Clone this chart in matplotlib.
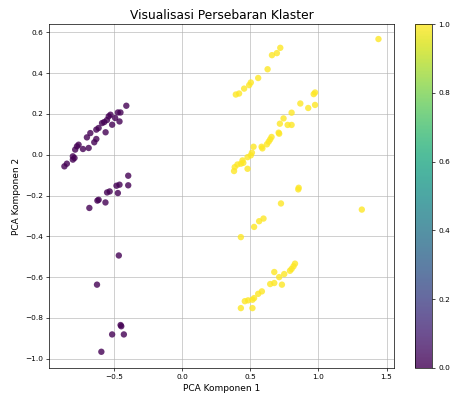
import numpy as np
import matplotlib.pyplot as plt

# cluster 0 (purple)
pc1_k0 = [-0.408, -0.470, -0.451, -0.524, -0.537, -0.458, -0.512, -0.586, -0.570, -0.611,
          -0.628, -0.672, -0.697, -0.628, -0.643, -0.758, -0.770, -0.726, -0.684, -0.783,
          -0.800, -0.788, -0.800, -0.844, -0.862, -0.550, -0.490, -0.560,
          -0.394, -0.394, -0.458, -0.480, -0.470, -0.530, -0.549, -0.561, -0.611, -0.620,
          -0.679, -0.463, -0.623, -0.445, -0.450, -0.512, -0.426, -0.591]
pc2_k0 = [0.240, 0.207, 0.207, 0.196, 0.188, 0.163, 0.147, 0.155, 0.160, 0.131,
          0.123, 0.106, 0.085, 0.077, 0.061, 0.049, 0.041, 0.028, 0.033, 0.025,
          -0.008, -0.016, -0.024, -0.044, -0.057, 0.170, 0.180, 0.110,
          -0.103, -0.150, -0.147, -0.152, -0.188, -0.180, -0.185, -0.234, -0.221, -0.225,
          -0.261, -0.494, -0.637, -0.841, -0.835, -0.881, -0.881, -0.966]

# cluster 1 (yellow)
pc1_k1 = [1.441, 0.721, 0.696, 0.660, 0.628, 0.559, 0.505, 0.493, 0.456, 0.419, 0.395,
          0.976, 0.966, 0.868, 0.926, 0.976, 0.804, 0.745, 0.718, 0.775, 0.804,
          0.709, 0.713, 0.657, 0.647, 0.636, 0.623, 0.584, 0.590, 0.525, 0.513,
          0.505, 0.481, 0.444, 0.432, 0.407, 0.387, 0.382, 0.481, 0.450,
          0.856, 0.853, 0.726, 1.319, 0.598, 0.566, 0.529, 0.432,
          0.829, 0.818, 0.804, 0.792, 0.677, 0.750, 0.713, 0.677, 0.647, 0.733,
          0.586, 0.559, 0.529, 0.517, 0.485, 0.461, 0.432, 0.517]
pc2_k1 = [0.567, 0.524, 0.498, 0.488, 0.419, 0.376, 0.354, 0.341, 0.324, 0.300, 0.295,
          0.305, 0.297, 0.251, 0.229, 0.244, 0.206, 0.178, 0.152, 0.146, 0.146,
          0.108, 0.103, 0.087, 0.075, 0.064, 0.051, 0.039, 0.031, 0.039, 0.010,
          -0.003, -0.012, -0.028, -0.044, -0.048, -0.061, -0.080, -0.069, -0.040,
          -0.162, -0.170, -0.239, -0.269, -0.313, -0.326, -0.354, -0.404,
          -0.534, -0.547, -0.560, -0.569, -0.575, -0.585, -0.600, -0.629, -0.634, -0.637,
          -0.670, -0.682, -0.703, -0.711, -0.714, -0.718, -0.752, -0.752]

pc1 = np.array(pc1_k0 + pc1_k1)
pc2 = np.array(pc2_k0 + pc2_k1)
labels = np.array([0] * len(pc1_k0) + [1] * len(pc1_k1))

fig = plt.figure(figsize=(4.52, 3.96), dpi=100)
ax = fig.add_axes([0.109, 0.071, 0.763, 0.868])
cax = fig.add_axes([0.918, 0.071, 0.038, 0.868])

sc = ax.scatter(pc1, pc2, c=labels, cmap='viridis', s=21, alpha=0.8, linewidths=0)
ax.set_xlim(-0.973, 1.556)
ax.set_ylim(-1.045, 0.640)
ax.set_xticks([-0.5, 0.0, 0.5, 1.0, 1.5])
ax.set_yticks([-1.0, -0.8, -0.6, -0.4, -0.2, 0.0, 0.2, 0.4, 0.6])
ax.grid(True, color='#b0b0b0', alpha=0.6, linewidth=0.7)
ax.set_axisbelow(True)
ax.tick_params(labelsize=5.3, length=2.3, width=0.5, pad=2.3)
ax.set_title('Visualisasi Persebaran Klaster', fontsize=8.8, pad=3.5)
ax.set_xlabel('PCA Komponen 1', fontsize=6.5, labelpad=2.5)
ax.set_ylabel('PCA Komponen 2', fontsize=6.5, labelpad=2.5)
for s in ax.spines.values():
    s.set_linewidth(0.5)

cb = fig.colorbar(sc, cax=cax)
cb.set_ticks([0.0, 0.2, 0.4, 0.6, 0.8, 1.0])
cb.ax.tick_params(labelsize=5.3, length=2.3, width=0.5, pad=2.3)
cb.outline.set_linewidth(0.5)

fig.savefig('out.png', dpi=100)
